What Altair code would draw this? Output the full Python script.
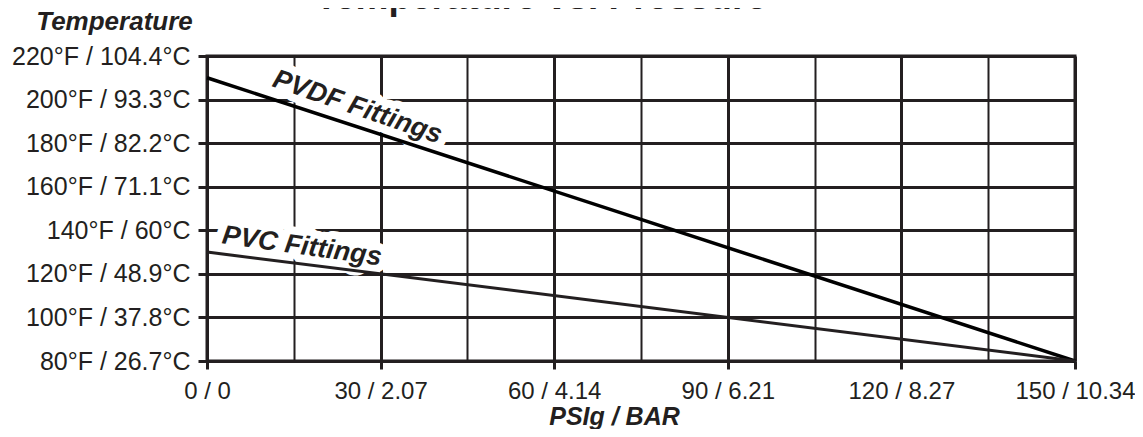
import altair as alt
import pandas as pd

# ---- data ----
psi_grid = [0, 15, 30, 45, 60, 75, 90, 105, 120, 135, 150]
psi_major = [0, 30, 60, 90, 120, 150]
bar_labels = ["0", "2.07", "4.14", "6.21", "8.27", "10.34"]

temp_grid = [80, 90, 100, 110, 120, 130, 140, 150, 160, 170, 180, 190, 200, 210, 220]
temp_major = [80, 100, 120, 140, 160, 180, 200, 220]
celsius_labels = ["26.7", "37.8", "48.9", "60", "71.1", "82.2", "93.3", "104.4"]

series = ["PVDF Fittings", "PVDF Fittings", "PVC Fittings", "PVC Fittings"]
series_psi = [0, 150, 0, 150]
series_temp = [210, 80, 130, 80]

label_text = ["PVDF Fittings", "PVC Fittings"]
label_psi = [26.0, 16.4]
label_temp = [196.5, 132.6]
label_angle = [19, 8]

INK = "#231f20"
FONT = "Liberation Sans"

lines_df = pd.DataFrame({"series": series, "psi": series_psi, "temp": series_temp})
labels_df = pd.DataFrame({"text": label_text, "psi": label_psi, "temp": label_temp, "angle": label_angle})
title_df = pd.DataFrame({"t": ["Temperature vs. Pressure"]})


def label_expr(values, labels, fmt):
    expr = "''"
    for v, l in reversed(list(zip(values, labels))):
        expr = f"datum.value == {v} ? '{fmt(v, l)}' : ({expr})"
    return expr


x_expr = label_expr(psi_major, bar_labels, lambda v, l: f"{v} / {l}")
y_expr = label_expr(temp_major, celsius_labels, lambda v, l: f"{v}°F / {l}°C")

x_scale = alt.Scale(domain=[0, 150], nice=False, zero=False)
y_scale = alt.Scale(domain=[80, 220], nice=False, zero=False)

x_axis = alt.Axis(
    values=psi_grid,
    labelExpr=x_expr,
    title="PSIg / BAR",
    titleFont=FONT, titleFontSize=25, titleFontWeight="bold", titleFontStyle="italic",
    titleColor=INK, titleX=407, titleY=63, titleAlign="center", titleBaseline="alphabetic",
    labelFont=FONT, labelFontSize=24, labelColor=INK, labelPadding=10, labelLimit=0,
    labelOverlap=False, labelFlush=False,
    tickSize=8, tickColor=INK,
    tickWidth=3,
    tickOpacity={"condition": {"test": "datum.value % 30 === 0", "value": 1}, "value": 0},
    grid=True, gridColor=INK,
    gridWidth={"condition": {"test": "datum.value % 30 === 0", "value": 3}, "value": 2},
    gridOpacity=1,
    domainColor=INK, domainWidth=3,
)

y_axis = alt.Axis(
    values=temp_grid,
    labelExpr=y_expr,
    title="Temperature",
    titleFont=FONT, titleFontSize=26, titleFontWeight="bold", titleFontStyle="italic",
    titleColor=INK, titleAngle=0, titleX=-93, titleY=-27, titleAlign="center",
    titleBaseline="alphabetic",
    labelFont=FONT, labelFontSize=25, labelColor=INK, labelPadding=8, labelLimit=0,
    labelOverlap=False, labelFlush=False,
    tickSize=9, tickColor=INK, tickWidth=3,
    tickOpacity={"condition": {"test": "datum.value % 20 === 0", "value": 1}, "value": 0},
    grid=True, gridColor=INK,
    gridWidth={"condition": {"test": "datum.value % 20 === 0", "value": 3}, "value": 2},
    gridOpacity=1,
    domainColor=INK, domainWidth=3,
)

halo = alt.Chart(labels_df).mark_text(
    font=FONT, fontSize=27, fontWeight="bold", fontStyle="italic",
    stroke="white", strokeWidth=16, strokeJoin="round", fill="white",
    align="center", baseline="middle",
).encode(
    x=alt.X("psi:Q", scale=x_scale, axis=x_axis),
    y=alt.Y("temp:Q", scale=y_scale, axis=y_axis),
    text="text:N",
    angle=alt.Angle("angle:Q", scale=None),
)

lines = alt.Chart(lines_df).mark_line(strokeCap="butt").encode(
    x=alt.X("psi:Q", scale=x_scale),
    y=alt.Y("temp:Q", scale=y_scale),
    detail="series:N",
    color=alt.Color("series:N", scale=alt.Scale(domain=["PVDF Fittings", "PVC Fittings"],
                                                 range=["#000000", INK]), legend=None),
    strokeWidth=alt.StrokeWidth("series:N", scale=alt.Scale(domain=["PVDF Fittings", "PVC Fittings"],
                                                            range=[3.5, 3]), legend=None),
)

labels = alt.Chart(labels_df).mark_text(
    font=FONT, fontSize=27, fontWeight="bold", fontStyle="italic",
    color=INK, align="center", baseline="middle",
).encode(
    x=alt.X("psi:Q", scale=x_scale),
    y=alt.Y("temp:Q", scale=y_scale),
    text="text:N",
    angle=alt.Angle("angle:Q", scale=None),
)

title = alt.Chart(title_df).mark_text(
    font=FONT, fontSize=37, fontWeight="bold", color=INK,
    align="center", baseline="alphabetic",
).encode(
    x=alt.value(334), y=alt.value(-47), text="t:N",
)

chart = alt.layer(halo, lines, labels, title).properties(
    width=868, height=305,
    autosize=alt.AutoSizeParams(type="none"),
    padding={"left": 199, "top": 48, "right": 60, "bottom": 68},
    background="white",
).configure_view(stroke=INK, strokeWidth=3)

chart.save("out.html", embed_options={"renderer": "svg", "actions": False})
